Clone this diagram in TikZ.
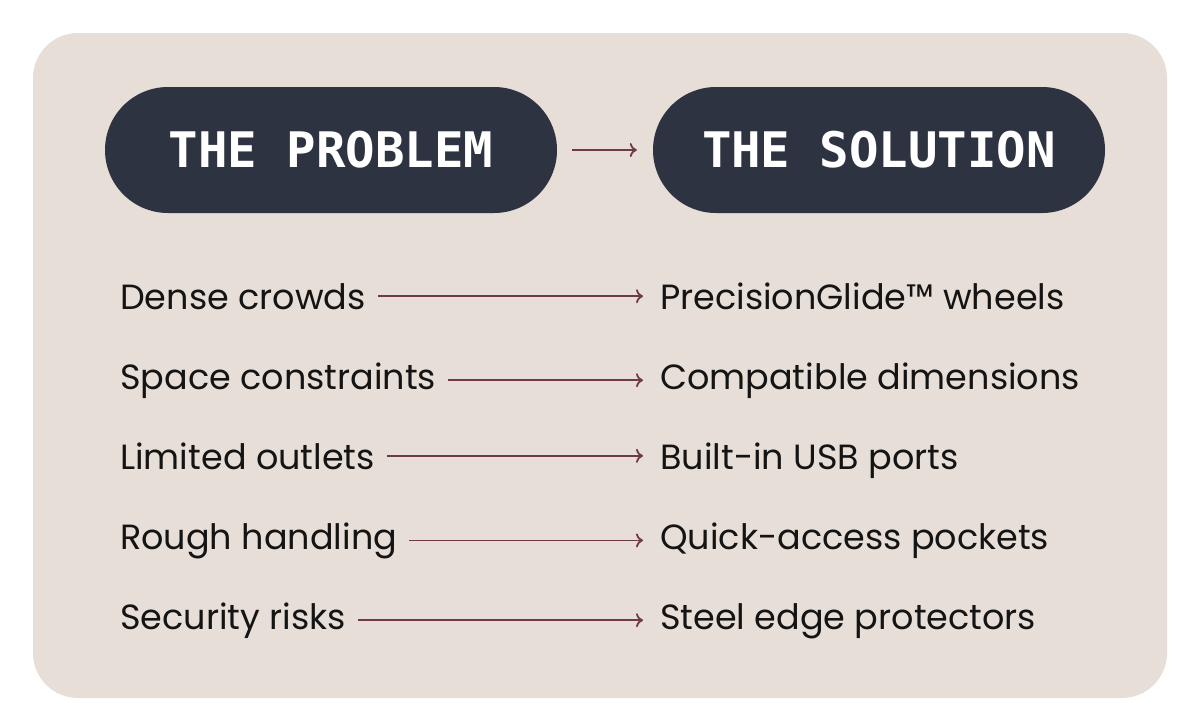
\documentclass[tikz,border=0pt]{standalone}
\usepackage{fontspec}
\setmainfont{Poppins}
\setmonofont{DejaVu Sans Mono}
\usetikzlibrary{positioning, arrows.meta}

\definecolor{panelbg}{HTML}{E6DED7}
\definecolor{pillbg}{HTML}{2D3340}
\definecolor{arrowred}{HTML}{6E3B42}
\definecolor{inktext}{HTML}{141414}

\tikzset{
  pill/.style={fill=pillbg, text=white, rounded corners=63pt, minimum width=452pt,
    minimum height=126pt, inner sep=0pt, font=\fontsize{49}{55}\selectfont\ttfamily\bfseries},
  item/.style={anchor=base west, inner sep=0pt, text=inktext, font=\fontsize{35}{40}\selectfont},
  flow/.style={draw=arrowred, line width=1.8pt, -{To[length=7pt,width=14pt]}},
}

\begin{document}
\begin{tikzpicture}[x=1pt, y=-1pt]
    \useasboundingbox (0,0) rectangle (1200,724);
    \fill[white] (0,0) rectangle (1200,724);
    \fill[panelbg, rounded corners=45pt] (33,33) rectangle (1167,698);
    % headers
    \node[pill] (problem) at (331,150) {THE PROBLEM};
    \node[pill] (solution) at (879,150) {THE SOLUTION};
    \draw[flow, shorten <=15pt, shorten >=16pt] (problem.east) -- (solution.west);
    % rows
    \node[item] (p1) at (120,309) {Dense crowds};
    \node[item] (p2) at (120,389) {Space constraints};
    \node[item] (p3) at (120,469) {Limited outlets};
    \node[item] (p4) at (120,549) {Rough handling};
    \node[item] (p5) at (120,629) {Security risks};
    \node[item] (s1) at (660,309) {PrecisionGlide™ wheels};
    \node[item] (s2) at (660,389) {Compatible dimensions};
    \node[item] (s3) at (660,469) {Built-in USB ports};
    \node[item] (s4) at (660,549) {Quick-access pockets};
    \node[item] (s5) at (660,629) {Steel edge protectors};
    \foreach \i in {1,...,5}
        \draw[flow, shorten <=12pt, shorten >=17pt] (p\i.east) -- (p\i.east -| s\i.west);
\end{tikzpicture}
\end{document}
